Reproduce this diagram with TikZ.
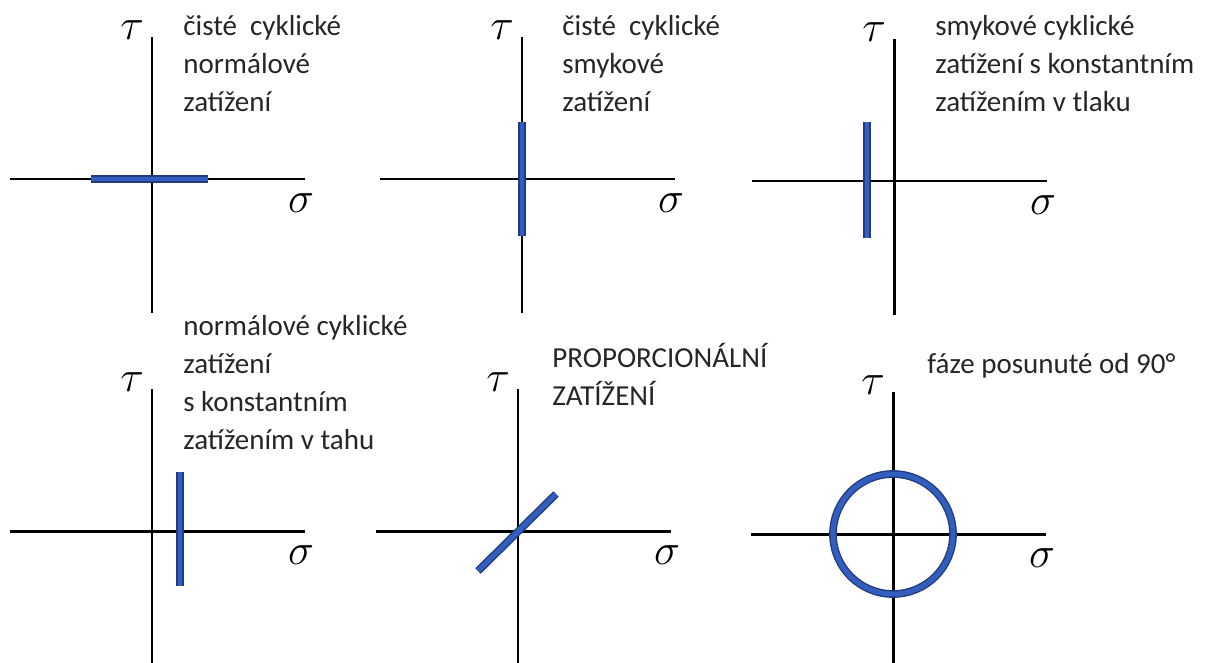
\documentclass[tikz,border=0pt]{standalone}
\usepackage{fontspec}
\setmainfont{Carlito}
\definecolor{loadblue}{RGB}{52,94,190}
\definecolor{loaddark}{RGB}{33,60,130}
\tikzset{
    axis/.style={line width=1.7pt, black},
    load/.style={draw=loaddark, double=loadblue, double distance=2.8pt, line width=0.8pt},
    sym/.style={font=\fontsize{28}{28}\selectfont, inner sep=0pt},
    caption/.style={anchor=base west, align=left, inner sep=0pt,
        font=\fontsize{16.5}{21.5}\selectfont, text=black!85}
}
\begin{document}
\begin{tikzpicture}[x=0.02cm, y=-0.02cm]
        \useasboundingbox (0,0) rectangle (1211,663);

        % Axes with tau and sigma
        \foreach \n/\ox/\oy in {a/152/179, b/522/179, c/894/181, d/152/531, e/518/531, f/893/534} {
                \coordinate (o\n) at (\ox,\oy);
                \draw[axis] ([xshift=-142*0.02cm]o\n) -- ([xshift=153*0.02cm]o\n);
                \draw[axis] ([yshift=142*0.02cm]o\n) -- ([yshift=-134*0.02cm]o\n);
                \node[sym] (tau\n) at ([shift={(-20,-149)}]o\n) {$\tau$};
                \node[sym] (sig\n) at ([shift={(149,24)}]o\n) {$\sigma$};
            }

        % Load paths
        \draw[load] (91,179) -- (208,179);
        \draw[load] (522,122) -- (522,236);
        \draw[load] (867,122) -- (867,238);
        \draw[load] (180,472) -- (180,586);
        \draw[load] (478,571) -- (556,494);
        \draw[load] (of) circle (60);

        % Captions (anchored at the baseline of the last line)
        \node[caption] (capa) at (183,111) {čisté\ \ cyklické\\normálové\\zatížení};
        \node[caption] (capb) at (562,111) {čisté\ \ cyklické\\smykové\\zatížení};
        \node[caption] (capc) at (935,111) {smykové cyklické\\zatížení s konstantním\\zatížením v tlaku};
        \node[caption] (capd) at (183,449) {normálové cyklické\\zatížení\\s konstantním\\zatížením v tahu};
        \node[caption] (cape) at (552,405) {PROPORCIONÁLNÍ\\ZATÍŽENÍ};
        \node[caption] (capf) at (927,373) {fáze posunuté od 90°};
    \end{tikzpicture}
\end{document}
